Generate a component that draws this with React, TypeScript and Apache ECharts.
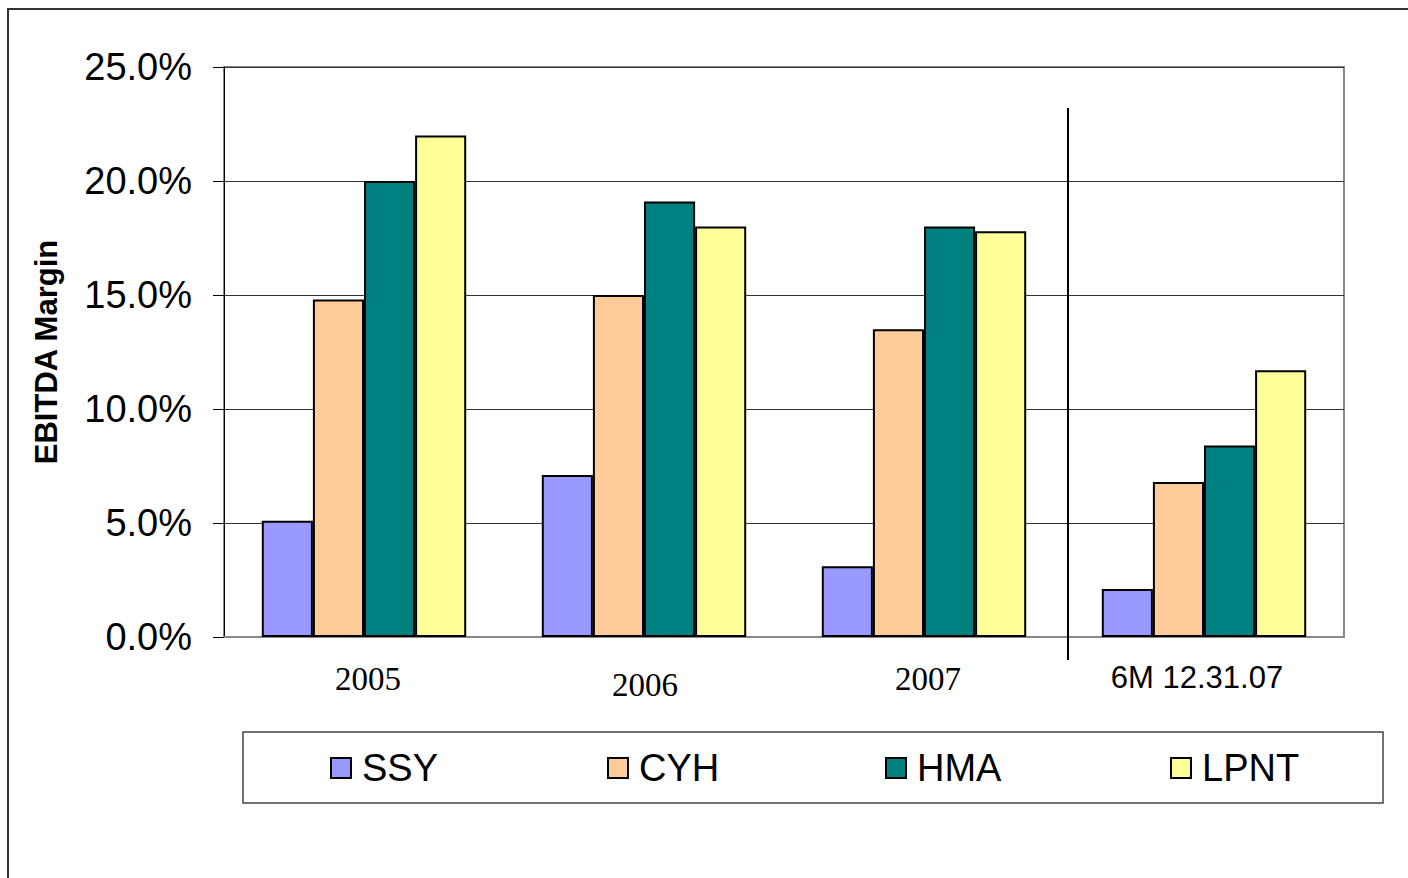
import React, { useEffect, useRef } from "react";
import * as echarts from "echarts";

const categories = ["2005", "2006", "2007", "6M 12.31.07"];
const seriesNames = ["SSY", "CYH", "HMA", "LPNT"];
const ssy = [5.1, 7.1, 3.1, 2.1];
const cyh = [14.8, 15.0, 13.5, 6.8];
const hma = [20.0, 19.1, 18.0, 8.4];
const lpnt = [22.0, 18.0, 17.8, 11.7];
const colors = ["#9999FF", "#FFCC99", "#008080", "#FFFF99"];
const legendLefts = [330, 607, 885, 1170];

export default function App() {
  const ref = useRef<HTMLDivElement>(null);
  useEffect(() => {
    if (!ref.current) return;
    const chart = echarts.init(ref.current, null, { renderer: "svg" });
    const values = [ssy, cyh, hma, lpnt];
    const option: any = {
      animation: false,
      backgroundColor: "#fff",
      grid: {
        left: 224,
        top: 67,
        right: 64,
        bottom: 241,
        show: true,
        borderColor: "#888",
        borderWidth: 2,
        backgroundColor: "transparent",
      },
      xAxis: {
        type: "category",
        data: categories,
        axisLine: { show: true, lineStyle: { color: "#888", width: 2 } },
        axisTick: { show: false },
        axisLabel: {
          margin: 25,
          interval: 0,
          formatter: (v: string, i: number) =>
            i === 3 ? `{s|${v}}` : i === 1 ? `{d|${v}}` : `{t|${v}}`,
          rich: {
            t: {
              fontFamily: "Liberation Serif",
              fontSize: 33,
              color: "#000",
              padding: [0, 0, 0, 8],
            },
            d: {
              fontFamily: "Liberation Serif",
              fontSize: 33,
              color: "#000",
              padding: [6, 0, 0, 2],
            },
            s: {
              fontFamily: "Liberation Sans",
              fontSize: 31,
              color: "#000",
              padding: [0, 14, 0, 0],
            },
          },
        },
      },
      yAxis: {
        type: "value",
        min: 0,
        max: 25,
        interval: 5,
        name: "EBITDA Margin",
        nameLocation: "middle",
        nameRotate: 90,
        nameGap: 162,
        nameTextStyle: {
          fontFamily: "Liberation Sans",
          fontWeight: "bold",
          fontSize: 31,
          color: "#000",
        },
        axisLine: { show: true, lineStyle: { color: "#000", width: 1 } },
        axisTick: { show: true, length: 11, lineStyle: { color: "#000" } },
        splitLine: { show: true, lineStyle: { color: "#333", width: 1 } },
        axisLabel: {
          margin: 32,
          formatter: (v: number) => v.toFixed(1) + "%",
          fontFamily: "Liberation Sans",
          fontSize: 38,
          color: "#000",
        },
      },
      legend: seriesNames.map((n, i) => ({
        data: [n],
        left: legendLefts[i],
        top: 749,
        padding: 0,
        itemWidth: 20,
        itemHeight: 20,
        icon: "rect",
        textStyle: {
          fontFamily: "Liberation Sans",
          fontSize: 38,
          color: "#000",
          padding: [0, 0, 0, 6],
        },
        itemStyle: { borderColor: "#000", borderWidth: 2 },
        selectedMode: false,
      })),
      series: seriesNames.map((n, i) => ({
        name: n,
        type: "bar",
        data: values[i],
        barGap: "0%",
        barCategoryGap: "27%",
        itemStyle: { color: colors[i], borderColor: "#000", borderWidth: 2 },
      })),
      graphic: [
        {
          type: "rect",
          shape: { x: 8, y: 9, width: 1600, height: 1000 },
          style: { fill: "none", stroke: "#333", lineWidth: 2 },
          silent: true,
          z: -10,
        },
        {
          type: "rect",
          shape: { x: 243, y: 732, width: 1140, height: 71 },
          style: { fill: "#fff", stroke: "#444", lineWidth: 1.5 },
          silent: true,
          z: -5,
        },
      ],
    };
    chart.setOption(option);
    const c2 = chart.convertToPixel({ xAxisIndex: 0 }, categories[2]) as number;
    const c3 = chart.convertToPixel({ xAxisIndex: 0 }, categories[3]) as number;
    const sepX = Math.round((c2 + c3) / 2) + 4;
    chart.setOption({
      graphic: [
        option.graphic[0],
        option.graphic[1],
        {
          type: "line",
          shape: { x1: sepX, y1: 108, x2: sepX, y2: 660 },
          style: { stroke: "#000", lineWidth: 2 },
          silent: true,
          z: 10,
        },
      ],
    });
    return () => chart.dispose();
  }, []);
  return (
    <div
      ref={ref}
      style={{ position: "absolute", left: 0, top: 0, width: 1408, height: 878 }}
    />
  );
}
